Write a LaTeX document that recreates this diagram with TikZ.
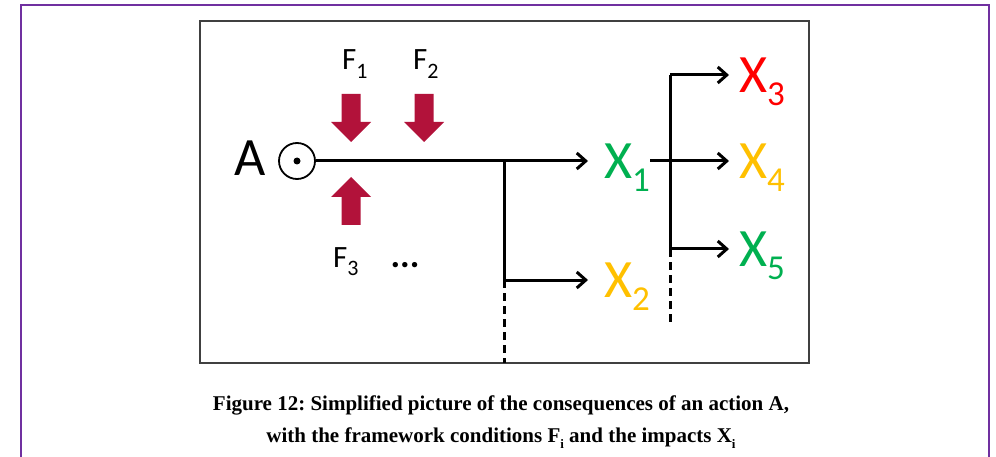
\documentclass[tikz,border=0pt]{standalone}
\usepackage{fontspec}
\setmainfont{Carlito}
\newfontfamily\capfont{Liberation Serif}
\usepackage{tikz}
\usetikzlibrary{arrows.meta,calc}
\definecolor{impgreen}{RGB}{0,176,80}
\definecolor{impyellow}{RGB}{255,192,0}
\definecolor{impred}{RGB}{255,0,0}
\definecolor{forcered}{RGB}{178,18,58}
\definecolor{framepurple}{RGB}{112,48,160}
\tikzset{
  big/.style={font=\fontsize{54}{54}\selectfont,inner sep=0pt},
  imp/.style={big,anchor=west},                    % Wirkungen X_i
  cond/.style={font=\fontsize{31}{31}\selectfont,inner sep=0pt,anchor=base west},
  ln/.style={line width=3pt},
  ar/.style={ln,-{Straight Barb[length=9pt,width=16pt]}},
  dsh/.style={ln,dash pattern=on 8pt off 5pt},
  captext/.style={font=\capfont\bfseries\fontsize{21}{32}\selectfont,align=center,inner sep=0pt},
  pics/force/.style={code={
    \fill[forcered] (-9.5,0) -- (9.5,0) -- (9.5,28) -- (20,28) -- (0,48)
      -- (-20,28) -- (-9.5,28) -- cycle;}}
}
\newcommand{\xsub}[1]{\smash{\raisebox{-13pt}{\fontsize{35}{35}\selectfont #1}}}
\newcommand{\fsub}[1]{\smash{\raisebox{-9pt}{\fontsize{22}{22}\selectfont #1}}}
\newcommand{\capsub}[1]{\raisebox{-6pt}{\fontsize{13}{13}\selectfont #1}}
\frenchspacing

\begin{document}
\begin{tikzpicture}[x=1pt,y=-1pt]
  \useasboundingbox (0,0) rectangle (996,457);
  \draw[framepurple,line width=1.5pt] (21,457) |- (989,5) -- (989,457);
  \draw[black!75,line width=1.5pt] (200,21) rectangle (809,363);

  % Handlung A
  \node[big,anchor=base west] (act) at (234,176) {A};
  \node[draw,circle,line width=1.8pt,minimum size=36pt,inner sep=0pt] (src) at (297,161) {};
  \fill (src.center) circle (3.5);

  % Rahmenbedingungen
  \node[cond] (F1) at (342,70) {F\fsub{1}};
  \node[cond] (F2) at (413,70) {F\fsub{2}};
  \node[cond] (F3) at (333,267) {F\fsub{3}\hspace{32pt}{\fontsize{36}{36}\selectfont\bfseries ...}};
  \pic at (351,94) {force};
  \pic at (424,94) {force};
  \pic[rotate=180] at (351,225) {force};

  % Wirkungen
  \node[imp,text=impgreen] (X1) at (604,161) {X\xsub{1}};
  \node[imp,text=impyellow] (X2) at (604,280) {X\xsub{2}};
  \node[imp,text=impred] (X3) at (739,75) {X\xsub{3}};
  \node[imp,text=impyellow] (X4) at (739,161) {X\xsub{4}};
  \node[imp,text=impgreen] (X5) at (739,249) {X\xsub{5}};

  \coordinate (b1) at (504,161);
  \coordinate (e1) at (504,363);
  \coordinate (b2) at (670,75);
  \coordinate (e2) at (670,326);

  \draw[ar,shorten >=16pt] (src) -- (X1);
  \draw[ar,shorten >=16pt] (b1) |- (X2);
  \draw[dsh] (b1 |- X2) -- (e1);
  \draw[ar,shorten >=10pt] (X1) -- (X4);
  \draw[ar,shorten >=10pt] (b2) -- (X3);
  \draw[ln] (b2) -- (b2 |- X5);
  \draw[ar,shorten >=10pt] (b2 |- X5) -- (X5);
  \draw[dsh] (b2 |- X5) -- (e2);

  \node[captext,anchor=north] (caption) at (501,396)
    {Figure 12: Simplified picture of the consequences of an action A,\\
     with the framework conditions F\capsub{i} and the impacts X\capsub{i}};
\end{tikzpicture}
\end{document}
